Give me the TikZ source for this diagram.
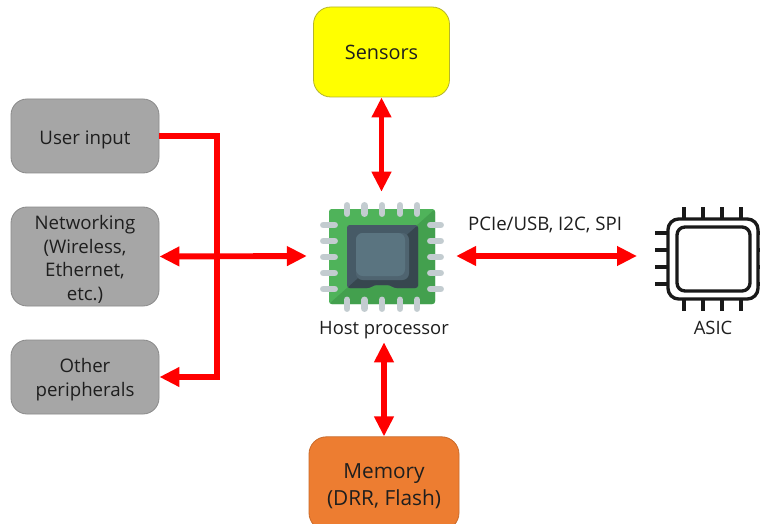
\documentclass[tikz,border=0pt]{standalone}
\usepackage{fontspec}
\setmainfont{Open Sans}
\usetikzlibrary{arrows.meta}
\definecolor{boxgray}{HTML}{A6A6A6}
\definecolor{boxedge}{HTML}{8A8A8A}
\definecolor{memfill}{HTML}{ED7D31}
\definecolor{memedge}{HTML}{C96A2A}
\definecolor{sensfill}{HTML}{FFFF00}
\definecolor{sensedge}{HTML}{B5B52A}
\definecolor{pcb}{HTML}{4FB35A}
\definecolor{pcbdark}{HTML}{43A04E}
\definecolor{pinc}{HTML}{C3CCD0}
\definecolor{diea}{HTML}{465A66}
\definecolor{dieb}{HTML}{37474F}
\definecolor{diec}{HTML}{4F6470}
\definecolor{died}{HTML}{5A7480}
\definecolor{ink}{HTML}{1E1E1E}
% moves the text down by #1 without changing the size of its box
\newcommand\lowtext[2]{\vbox{\kern#1\hbox{\begin{tabular}{@{}c@{}}#2\end{tabular}}\kern-#1}}
\tikzset{
  sidebox/.style={draw=boxedge,fill=boxgray,rounded corners=12pt,line width=.6pt,
    minimum width=111pt,text=ink,inner sep=0pt,
    font=\fontsize{14pt}{17.6pt}\selectfont},
  bigbox/.style={rounded corners=13pt,line width=.6pt,text=ink,inner sep=0pt},
  plain/.style={inner sep=0pt,text=ink},
  link/.style={draw=red,line width=4.4pt,line join=miter},
  tips/.style={link,{Triangle[length=15pt,width=14pt]}-{Triangle[length=15pt,width=14pt]}},
  tipend/.style={link,-{Triangle[length=15pt,width=14pt]}},
  pin/.style={draw=pinc,line width=5.2pt,line cap=round},
  asicline/.style={draw=black!90,line width=2.5pt}
}
\begin{document}
\begin{tikzpicture}[x=.75pt,y=-.75pt]
\useasboundingbox (0,0) rectangle (760,524);
\clip (0,0) rectangle (760,524);
\fill[white] (0,0) rectangle (760,524);
% boxes
\node[sidebox,minimum height=55.5pt] (user) at (85,136) {\lowtext{3pt}{User input}};
\node[sidebox,minimum height=74.25pt] (net) at (85,256.5) {\lowtext{3pt}{Networking\\(Wireless,\\Ethernet,\\etc.)}};
\node[sidebox,minimum height=55.5pt] (other) at (85,377) {\lowtext{2.2pt}{Other\\peripherals}};
\node[bigbox,draw=sensedge,fill=sensfill,minimum width=102pt,minimum height=67.5pt,font=\fontsize{14.9pt}{18pt}\selectfont] (sensors) at (381.5,52) {Sensors};
\node[bigbox,draw=memedge,fill=memfill,minimum width=112.5pt,minimum height=70pt,font=\fontsize{15.6pt}{20.2pt}\selectfont] (memory) at (384,483.5) {\lowtext{2pt}{Memory\\(DRR, Flash)}};
% chip anchors (node frames the icon, no outline)
\node[minimum width=111.5pt,minimum height=96pt,inner sep=0pt] (chip) at (381.5,256) {};
\node[plain,minimum height=22.5pt,font=\fontsize{13.8pt}{14pt}\selectfont] (hostlabel) at (384,327) {\lowtext{3pt}{Host processor}};
\node[anchor=west,minimum width=92pt,minimum height=80pt,inner sep=0pt] (asic) at (637,256) {};
\node[plain,font=\fontsize{13.8pt}{14pt}\selectfont] (asiclabel) at (713,327) {\lowtext{3pt}{ASIC}};
\node[plain,font=\fontsize{14pt}{14pt}\selectfont] (bus label) at (545,224) {\lowtext{2.2pt}{PCIe/USB, I2C, SPI}};
% chip icon
\fill[pcb,rounded corners=2pt] (329,209) rectangle (435,304);
\fill[pcbdark,rounded corners=2pt] (435,209) -- (435,304) -- (329,304) -- cycle;
\foreach \x in {347,364.5,382,400,417}{\draw[pin] (\x,205.5) -- (\x,213.5);\draw[pin] (\x,300) -- (\x,308.5);}
\foreach \y in {225,241,257,273,289}{\draw[pin] (323.5,\y) -- (334.5,\y);\draw[pin] (430.5,\y) -- (440.5,\y);}
\fill[diea,rounded corners=2pt] (347,225) -- (418,225) -- (418,288) -- (394,288) -- (390,285) -- (374,285) -- (370,288) -- (347,288) -- cycle;
\fill[dieb] (418,225) -- (418,286) [rounded corners=2pt] -- (418,288) -- (394,288) -- (390,285) -- (374,285) -- (370,288) -- (347,288) -- cycle;
\fill[diec,rounded corners=5pt] (356,233) rectangle (409,280);
\fill[died,rounded corners=5pt] (356,233) rectangle (405,276);
% ASIC icon
\foreach \x in {684,703,722,741}{
  \draw[asicline] (\x,207) -- (\x,219);
  \draw[asicline] (\x,299) -- (\x,311);
}
\foreach \y in {233,250,267,284}{
  \draw[asicline] (655,\y) -- (668,\y);
  \draw[asicline] (758,\y) -- (770,\y);
}
\draw[asicline,fill=white,rounded corners=8pt] (668,219) rectangle (758,299);
\draw[asicline,rounded corners=6pt] (677,227) rectangle (750,291);
% connectors
\coordinate (bus) at (217,256.5);
\draw[tips] (net.east) -- (chip.west);
\draw[tipend] (user.east) -| (bus) |- (other.east);
\draw[tips] (sensors.south) -- (chip.north);
\draw[tips] (memory.north) -- (hostlabel.south);
\draw[tips] (chip.east) -- (asic.west);
\end{tikzpicture}
\end{document}
